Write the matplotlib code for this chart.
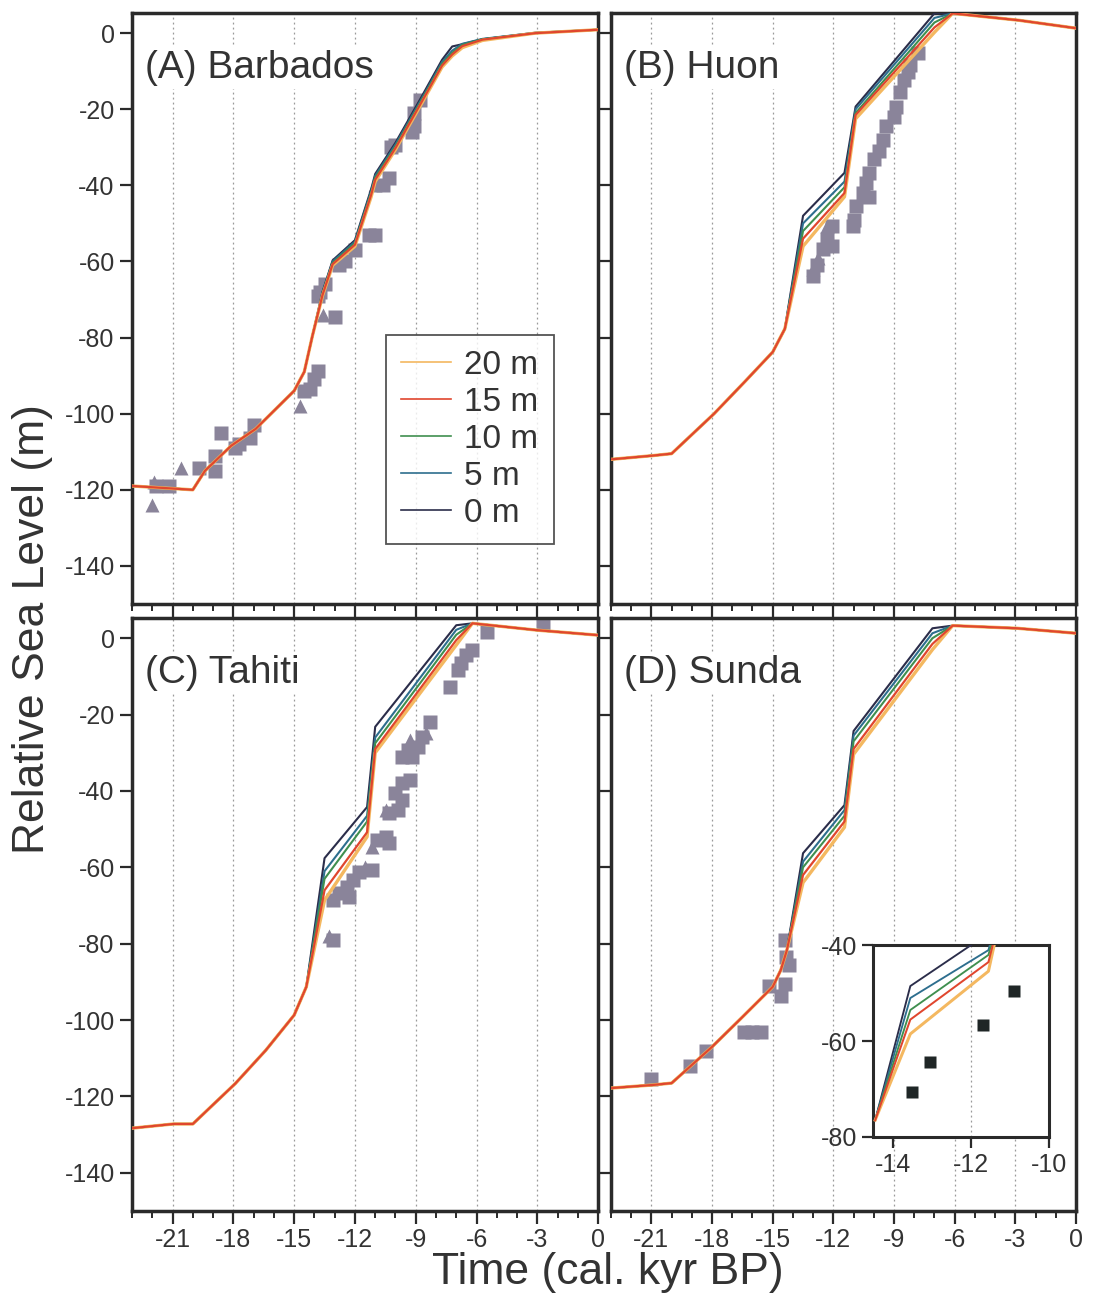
import matplotlib
matplotlib.use('Agg')
import matplotlib.pyplot as plt
from matplotlib.ticker import MultipleLocator

plt.rcParams['font.family'] = ['Liberation Sans', 'DejaVu Sans']
plt.rcParams['axes.unicode_minus'] = False

# ---- model curves (relative sea level, m) for ice thickness offsets ----
model_labels = ['0 m', '5 m', '10 m', '20 m', '15 m']
model_colors = {'0 m': '#2b2d4a', '5 m': '#2d6e8e', '10 m': '#3f8f4f',
                '15 m': '#e0462e', '20 m': '#f4b860'}
model_widths = {'0 m': 1.5, '5 m': 1.5, '10 m': 1.5, '15 m': 1.6, '20 m': 2.4}
legend_order = ['20 m', '15 m', '10 m', '5 m', '0 m']

# (A) Barbados
time_a = [-23.0, -20.0, -19.4, -18.1, -16.9, -15.0, -14.5, -14.1, -13.6, -13.1,
          -12.0, -11.2, -11.0, -10.0, -8.7, -7.7, -7.2, -6.7, -5.7, -3.1, 0.0]
rsl_a = {
    '20 m': [-119, -120, -115, -108.4, -104, -94, -89, -79.6, -69.0, -61.0,
             -56.0, -43.0, -39.0, -30.6, -18.4, -8.9, -6.0, -3.8, -1.9, 0.0, 0.9],
    '15 m': [-119, -120, -115, -108.4, -104, -94, -89, -79.6, -68.8, -60.7,
             -55.6, -42.5, -38.5, -30.2, -18.0, -8.5, -5.6, -3.4, -1.7, 0.0, 0.9],
    '10 m': [-119, -120, -115, -108.4, -104, -94, -89, -79.6, -68.5, -60.4,
             -55.2, -42.0, -38.0, -29.8, -17.6, -8.1, -5.2, -3.1, -1.6, 0.0, 0.9],
    '5 m': [-119, -120, -115, -108.4, -104, -94, -89, -79.6, -68.2, -60.0,
            -54.8, -41.5, -37.5, -29.3, -17.2, -7.6, -4.6, -2.8, -1.5, 0.1, 0.9],
    '0 m': [-119, -120, -115, -108.4, -104, -94, -89, -79.6, -68.0, -59.7,
            -54.4, -41.0, -37.0, -28.8, -16.6, -7.0, -3.5, -2.9, -1.6, 0.1, 0.9],
}

# (B) Huon
time_b = [-23.0, -20.9, -20.0, -17.9, -16.4, -15.0, -14.4, -13.5, -11.45, -10.9,
          -7.0, -6.1, -2.85, 0.0]
rsl_b = {
    '20 m': [-112, -111, -110.5, -100, -91.7, -83.8, -77.7, -56.0, -43.0, -22.5, 0.2, 5.2, 3.4, 1.3],
    '15 m': [-112, -111, -110.5, -100, -91.7, -83.8, -77.7, -54.0, -42.0, -21.5, 1.5, 5.2, 3.4, 1.3],
    '10 m': [-112, -111, -110.5, -100, -91.7, -83.8, -77.7, -52.0, -40.5, -21.0, 2.8, 5.2, 3.4, 1.3],
    '5 m': [-112, -111, -110.5, -100, -91.7, -83.8, -77.7, -50.0, -39.0, -20.0, 4.0, 5.2, 3.4, 1.3],
    '0 m': [-112, -111, -110.5, -100, -91.7, -83.8, -77.7, -48.0, -36.7, -19.3, 5.2, 5.3, 3.4, 1.3],
}

# (C) Tahiti
time_c = [-23.0, -20.95, -20.0, -17.9, -16.4, -15.0, -14.4, -13.5, -11.4, -11.0,
          -7.0, -6.2, -3.0, 0.0]
rsl_c = {
    '20 m': [-128.3, -127.2, -127.2, -116.6, -107.9, -98.7, -91.3, -68.6, -52.0, -30.0, -1.8, 3.9, 2.1, 0.8],
    '15 m': [-128.3, -127.2, -127.2, -116.6, -107.9, -98.7, -91.3, -66.0, -50.8, -29.0, -0.5, 3.9, 2.1, 0.8],
    '10 m': [-128.3, -127.2, -127.2, -116.6, -107.9, -98.7, -91.3, -63.0, -48.0, -27.5, 0.9, 3.9, 2.1, 0.8],
    '5 m': [-128.3, -127.2, -127.2, -116.6, -107.9, -98.7, -91.3, -61.0, -46.5, -26.0, 2.2, 3.9, 2.1, 0.8],
    '0 m': [-128.3, -127.2, -127.2, -116.6, -107.9, -98.7, -91.3, -57.6, -44.2, -23.2, 3.4, 3.9, 2.1, 0.8],
}

# (D) Sunda
time_d = [-23.0, -20.95, -20.0, -18.0, -16.5, -15.0, -14.6, -14.3, -13.5, -11.45,
          -11.0, -7.1, -6.1, -2.9, 0.0]
rsl_d = {
    '20 m': [-117.8, -117, -116.5, -107, -99.2, -91.3, -86.9, -81.7, -64.0, -49.5, -30.4, -3.0, 3.3, 2.6, 1.3],
    '15 m': [-117.8, -117, -116.5, -107, -99.2, -91.3, -86.9, -81.7, -62.0, -48.0, -29.0, -1.5, 3.3, 2.6, 1.3],
    '10 m': [-117.8, -117, -116.5, -107, -99.2, -91.3, -86.9, -81.7, -60.0, -46.5, -27.0, 0.0, 3.3, 2.6, 1.3],
    '5 m': [-117.8, -117, -116.5, -107, -99.2, -91.3, -86.9, -81.7, -58.5, -45.0, -25.5, 1.3, 3.3, 2.6, 1.3],
    '0 m': [-117.8, -117, -116.5, -107, -99.2, -91.3, -86.9, -81.7, -56.3, -43.7, -24.3, 2.6, 3.3, 2.6, 1.3],
}

# Sunda inset (zoom on -14.5 .. -10 kyr)
time_inset = [-14.45, -13.55, -11.55, -11.35]
rsl_inset = {
    '20 m': [-76.5, -58.5, -45.4, -38.0],
    '15 m': [-76.5, -55.5, -43.5, -37.0],
    '10 m': [-76.5, -53.5, -42.0, -36.0],
    '5 m': [-76.5, -51.0, -41.0, -35.0],
    '0 m': [-76.5, -48.5, -37.5, -30.0],
}
inset_obs_t = [-13.5, -13.05, -11.68, -10.9]
inset_obs_rsl = [-70.6, -64.4, -56.7, -49.5]

# ---- observations ----
sq_a_t = [-8.8, -9.07, -9.1, -9.2, -10.0, -10.2, -10.3, -10.6, -11.3, -11.0, -12.0, -12.5,
          -12.8, -13.5, -13.7, -13.8, -13.0, -13.8, -14.0, -14.2, -14.5, -17.0, -17.2,
          -17.7, -17.9, -18.6, -18.9, -18.9, -19.7, -21.2, -21.8]
sq_a_rsl = [-17.5, -21, -24.5, -26, -29.3, -29.8, -38, -40, -53, -53, -57, -60,
            -61, -66, -68, -69, -74.6, -88.7, -90.8, -93.5, -94, -103, -106.5,
            -108, -109, -105, -111, -115, -114.4, -119, -119]
tri_a_t = [-11.0, -13.6, -14.7, -20.6, -22.0, -21.9]
tri_a_rsl = [-40, -74, -98, -114.4, -124, -118]

sq_b_t = [-7.8, -8.2, -8.3, -8.5, -8.7, -8.9, -9.0, -9.4, -9.55, -9.75, -10.0, -10.25,
          -10.4, -10.55, -10.25, -10.9, -11.0, -11.05, -12.05, -12.3, -12.5, -12.05,
          -12.8, -13.0]
sq_b_rsl = [-5.3, -8.4, -10.2, -12.3, -15.4, -19.3, -22, -24.5, -28, -31, -33, -36.7,
            -39.3, -42, -43, -45.5, -49, -50.8, -50.8, -54, -56.8, -56, -61, -63.9]
tri_b_t = [-12.3, -12.75, -13.0]
tri_b_rsl = [-50.8, -59, -62]

sq_c_t = [-2.7, -5.5, -6.2, -6.5, -6.75, -6.9, -7.3, -8.3, -8.7, -8.9, -9.4, -9.2, -9.7,
          -9.7, -9.3, -10.0, -9.7, -9.85, -10.3, -10.45, -10.9, -10.3, -11.15, -11.8,
          -12.1, -12.4, -12.8, -12.3, -13.1, -13.1]
sq_c_rsl = [3.9, 1.6, -3.1, -4.5, -6.6, -8.4, -12.8, -22, -25.8, -28.5, -29.3, -31, -31,
            -38, -37.2, -40.6, -42.4, -45, -45.9, -52, -52.9, -53.7, -60.7, -61.2,
            -63.4, -65.2, -66.8, -67.8, -68.6, -79]
tri_c_t = [-8.5, -9.3, -10.45, -11.15, -11.5, -13.3]
tri_c_rsl = [-24.9, -26.7, -45, -54.7, -60, -78]

sq_d_t = [-14.4, -14.35, -14.2, -14.4, -14.6, -15.2, -15.6, -16.0, -16.4, -18.3, -19.1, -21.0]
sq_d_rsl = [-79, -83.5, -85.6, -90.5, -93.8, -91, -103, -103, -103, -108, -112, -115.5]

panel_titles = ['(A) Barbados', '(B) Huon', '(C) Tahiti', '(D) Sunda']

obs_color = '#8a849a'
spine_color = '#2a2a2a'
text_color = '#333333'

fig = plt.figure(figsize=(10.93, 12.98), dpi=100)
ax_a = fig.add_axes([0.1208, 0.5347, 0.4264, 0.4553])
ax_b = fig.add_axes([0.5590, 0.5347, 0.4254, 0.4553])
ax_c = fig.add_axes([0.1208, 0.0670, 0.4264, 0.4569])
ax_d = fig.add_axes([0.5590, 0.0670, 0.4254, 0.4569])

panels = [
    (ax_a, time_a, rsl_a, sq_a_t, sq_a_rsl, tri_a_t, tri_a_rsl),
    (ax_b, time_b, rsl_b, sq_b_t, sq_b_rsl, tri_b_t, tri_b_rsl),
    (ax_c, time_c, rsl_c, sq_c_t, sq_c_rsl, tri_c_t, tri_c_rsl),
    (ax_d, time_d, rsl_d, sq_d_t, sq_d_rsl, [], []),
]

for i, (ax, t, rsl, st, sr, tt, tr) in enumerate(panels):
    ax.plot(st, sr, 's', color=obs_color, ms=9.5, mec='none', zorder=2)
    if tt:
        ax.plot(tt, tr, '^', color=obs_color, ms=10, mec='none', zorder=2)
    for lab in model_labels:
        ax.plot(t, rsl[lab], color=model_colors[lab], lw=model_widths[lab],
                label=lab, zorder=3)
    ax.set_xlim(-23, 0)
    ax.set_ylim(-150, 5.3)
    ax.xaxis.set_major_locator(MultipleLocator(3))
    ax.xaxis.set_minor_locator(MultipleLocator(1))
    ax.yaxis.set_major_locator(MultipleLocator(20))
    ax.grid(axis='x', which='major', linestyle=(0, (1.5, 2.5)), color='#9a9a9a', lw=0.9)
    ax.tick_params(axis='both', which='major', direction='out', length=9, width=1.6,
                   labelsize=18, colors=spine_color, labelcolor=text_color)
    ax.tick_params(axis='x', which='minor', direction='out', length=5, width=1.4,
                   colors=spine_color)
    for sp in ax.spines.values():
        sp.set_linewidth(2.5)
        sp.set_color(spine_color)
    if i in (1, 3):
        ax.tick_params(axis='y', labelleft=False)
    if i in (0, 1):
        ax.tick_params(axis='x', labelbottom=False)
    ax.text(0.028, 0.89, panel_titles[i], transform=ax.transAxes, fontsize=28,
            color=text_color, va='baseline', ha='left', zorder=5,
            bbox=dict(facecolor='white', edgecolor='none', pad=2))

handles, labels = ax_a.get_legend_handles_labels()
hmap = dict(zip(labels, handles))
leg = ax_a.legend([hmap[k] for k in legend_order], legend_order,
                  loc='upper left', bbox_to_anchor=(0.545, 0.455), fontsize=24,
                  frameon=True, fancybox=False, edgecolor=spine_color,
                  handlelength=1.5, handletextpad=0.4, labelspacing=0.18,
                  borderpad=0.45, borderaxespad=0.0)
leg.get_frame().set_linewidth(1.3)
for line in leg.get_lines():
    line.set_linewidth(1.2)
for txt in leg.get_texts():
    txt.set_color(text_color)

# inset on Sunda panel
ax_in = ax_d.inset_axes([0.564, 0.125, 0.378, 0.323])
ax_in.set_facecolor('white')
ax_in.axvline(-12, linestyle=(0, (1.5, 2.5)), color='#9a9a9a', lw=0.9, zorder=1)
for lab in model_labels:
    ax_in.plot(time_inset, rsl_inset[lab], color=model_colors[lab],
               lw=model_widths[lab] * 0.9, zorder=3)
ax_in.plot(inset_obs_t, inset_obs_rsl, 's', color='#1f2626', ms=9, mec='none', zorder=4)
ax_in.set_xlim(-14.5, -10)
ax_in.set_ylim(-80, -40)
ax_in.set_xticks([-14, -12, -10])
ax_in.set_yticks([-80, -60, -40])
ax_in.tick_params(direction='out', length=8, width=1.6, labelsize=18,
                  colors=spine_color, labelcolor=text_color)
for sp in ax_in.spines.values():
    sp.set_linewidth(2.2)
    sp.set_color(spine_color)

fig.text(0.03, 0.515, 'Relative Sea Level (m)', rotation=90, fontsize=32,
         color=text_color, ha='center', va='center')
fig.text(0.556, 0.02, 'Time (cal. kyr BP)', fontsize=32, color=text_color,
         ha='center', va='center')

fig.savefig('out.png', dpi=100)
